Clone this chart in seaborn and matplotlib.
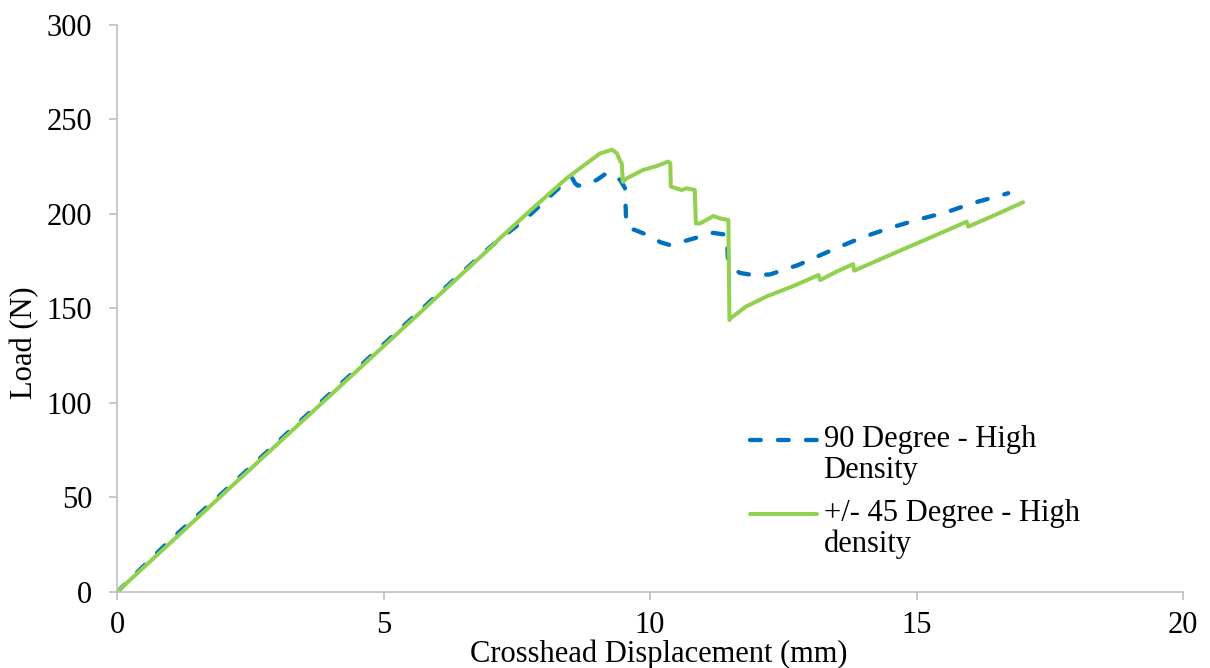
import matplotlib
matplotlib.use("Agg")
import matplotlib.pyplot as plt
import seaborn as sns
import numpy as np

# 90 degree, high density (blue dashed)
x_90 = [0, 1, 2, 3, 4, 5, 6, 7, 7.69, 8.25, 8.54, 8.6, 8.65, 8.8, 9.0, 9.19,
        9.3, 9.44, 9.53, 9.55, 9.6, 9.72, 9.94, 10.2, 10.37, 10.69, 11.0,
        11.18, 11.44, 11.46, 11.55, 11.69, 11.93, 12.25, 12.78, 13.5, 14.0,
        14.5, 15.0, 15.57, 16.06, 16.6, 16.72]
load_90 = [0, 27.5, 53, 79, 105, 131, 157, 182.5, 198, 212.7, 219, 216, 215,
           215.5, 218, 221.7, 221, 218, 213.7, 198, 192.5, 191.5, 189, 185,
           183.6, 186, 188.5, 190, 189, 177, 171, 168.8, 167.7, 168, 173, 182,
           187.8, 192.6, 196.8, 201, 205.8, 210, 211]

# +/- 45 degree, high density (green solid)
x_45 = [0, 1, 2, 3, 4, 5, 6, 7, 7.19, 7.8, 8.44, 9.06, 9.29, 9.38, 9.44,
        9.47, 9.49, 9.56, 9.87, 10.13, 10.34, 10.38, 10.39, 10.59, 10.69,
        10.84, 10.86, 10.94, 11.19, 11.31, 11.47, 11.49, 11.52, 11.8, 12.19,
        12.7, 13.16, 13.19, 13.5, 13.81, 13.83, 14.69, 15.3, 15.94, 15.97,
        16.5, 17.0]
load_45 = [0, 26, 52, 78, 104, 130, 156, 182, 187.3, 203, 219, 232, 234, 232,
           228, 226.8, 217, 218.8, 223.3, 225.4, 227.7, 226.8, 214.5, 212.7,
           213.6, 212.7, 195, 195, 198.9, 197.7, 196.8, 143.9, 145, 151,
           156.4, 162, 167.7, 165, 169.5, 173.5, 170, 180.6, 188, 195.9, 193.3,
           199.8, 206.2]

labels = ["90 Degree - High\nDensity", "+/- 45 Degree - High\ndensity"]
x_ticks = [0, 5, 10, 15, 20]
y_ticks = [0, 50, 100, 150, 200, 250, 300]

sns.set_theme(style="white")
plt.rcParams['font.family'] = ['Liberation Serif', 'DejaVu Serif']
plt.rcParams['text.color'] = 'black'
plt.rcParams['axes.labelcolor'] = 'black'

fig = plt.figure(figsize=(12.1, 6.68), dpi=100)
ax = fig.add_axes([0.0967, 0.1138, 0.881, 0.8488])

sns.lineplot(x=x_90, y=load_90, ax=ax, sort=False, estimator=None,
             color="#0070C0", linewidth=3.1, label=labels[0])
sns.lineplot(x=x_45, y=load_45, ax=ax, sort=False, estimator=None,
             color="#92D050", linewidth=2.9, label=labels[1])
ax.lines[0].set_dashes((2.5, 4.0))
ax.lines[0].set_dash_capstyle("round")

ax.set_xlim(0, 20)
ax.set_ylim(0, 300)
ax.set_xticks(x_ticks)
ax.set_yticks(y_ticks)

for s in ["top", "right"]:
    ax.spines[s].set_visible(False)
for s in ["left", "bottom"]:
    ax.spines[s].set_color("#BFBFBF")
    ax.spines[s].set_linewidth(1.2)
ax.tick_params(axis="both", which="major", direction="out", length=6,
               width=1.2, color="#BFBFBF", labelsize=22, labelcolor="black",
               left=True, bottom=True)
ax.tick_params(axis="y", pad=12)
ax.tick_params(axis="x", pad=8)

ax.set_xlabel("Crosshead Displacement (mm)", fontsize=22, color="black")
ax.set_ylabel("Load (N)", fontsize=22, color="black")
ax.xaxis.set_label_coords(0.508, -0.083)
ax.yaxis.set_label_coords(-0.073, 0.44)

leg = ax.legend(loc="upper left", bbox_to_anchor=(0.594, 0.295), frameon=False,
                fontsize=22, handlelength=2.2, handletextpad=0.2,
                labelspacing=0.45, borderpad=0, borderaxespad=0)
for t in leg.get_texts():
    t.set_color("black")
    t.set_linespacing(1.1)
# move the handles up to sit on the first line of each label
for h in leg.legend_handles:
    yd = np.asarray(h.get_ydata(), dtype=float)
    h.set_ydata(yd + 11)

fig.savefig("out.png", dpi=100)
